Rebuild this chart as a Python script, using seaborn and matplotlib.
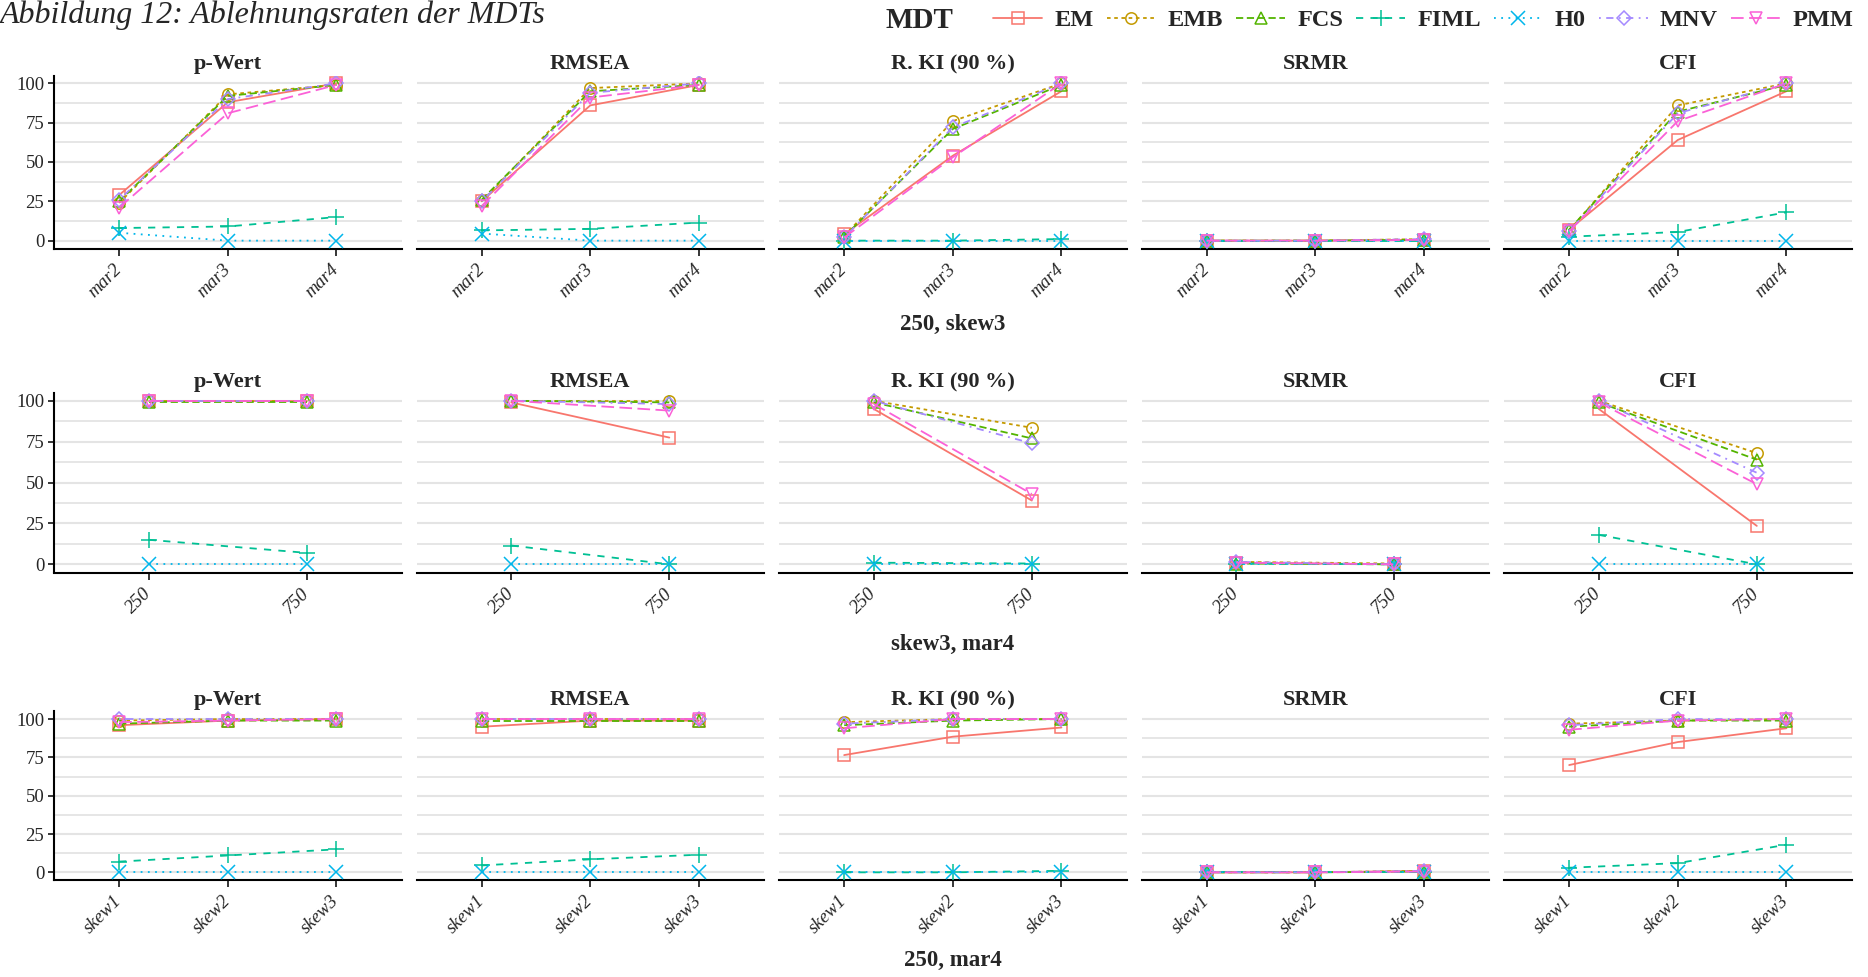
import matplotlib
matplotlib.use("Agg")
import matplotlib.pyplot as plt
from matplotlib.lines import Line2D
import pandas as pd
import seaborn as sns

sns.set_theme(style="white")
plt.rcParams["font.family"] = ["Liberation Serif", "DejaVu Serif"]

# ---------------------------------------------------------------- data
MDT = ["EM", "EMB", "FCS", "FIML", "H0", "MNV", "PMM"]
FIT = ["p-Wert", "RMSEA", "R. KI (90 %)", "SRMR", "CFI"]

MAR_LEVELS = ["mar2", "mar3", "mar4"]
N_LEVELS = ["250", "750"]
SKEW_LEVELS = ["skew1", "skew2", "skew3"]

CAPTIONS = ["250, skew3", "skew3, mar4", "250, mar4"]

# rejection rates (%), rows in MDT order
MAR_PWERT = [[29, 88, 100], [24, 93, 99], [25, 92, 99], [8, 9, 15],
             [5, 0, 0], [26, 90, 100], [21, 81, 99]]
MAR_RMSEA = [[25, 86, 99], [25, 97, 100], [26, 95, 99], [6.5, 7.5, 11.5],
             [4.5, 0, 0], [25, 94, 100], [22, 91, 99]]
MAR_RKI = [[4, 54, 95], [3, 76, 100], [2.5, 71, 99], [0, 0, 1],
           [0, 0, 0], [2, 72, 100], [2, 53, 100]]
MAR_SRMR = [[0, 0, 0.5], [0, 0, 1], [0, 0, 0.5], [0, 0, 0],
            [0, 0, 0], [0, 0, 1], [0, 0, 0.5]]
MAR_CFI = [[7, 64, 95], [6.5, 86, 100], [7, 82, 99], [2.5, 5.5, 18],
           [0, 0, 0], [6, 81, 100], [6, 76, 100]]

N_PWERT = [[100, 100], [100, 100], [99, 99], [15, 7],
           [0, 0], [100, 100], [100, 100]]
N_RMSEA = [[99, 77.5], [100, 100], [100, 99], [11.5, 0],
           [0, 0], [100, 98], [100, 94]]
N_RKI = [[95, 39], [100, 83.5], [99, 77], [1, 0.5],
         [0, 0], [100, 74], [98, 43]]
N_SRMR = [[1, 0], [1.5, 0.5], [0.5, 0], [0.5, 0],
          [0, 0], [1.5, 0], [1, 0]]
N_CFI = [[95, 23.5], [100, 68], [99, 64], [18, 0],
         [0, 0], [100, 56], [99, 49]]

SKEW_PWERT = [[96, 99, 100], [99, 100, 100], [97, 99, 99], [7, 11, 15],
              [0, 0, 0], [100, 100, 100], [98, 99, 100]]
SKEW_RMSEA = [[95, 99, 99], [100, 100, 100], [99, 99, 99], [4.5, 8.5, 11.5],
              [0, 0, 0], [100, 100, 100], [100, 100, 100]]
SKEW_RKI = [[76.5, 88.5, 94.5], [98, 100, 100], [96, 99, 100], [0, 0, 1],
            [0, 0, 0], [97, 100, 100], [94, 100, 100]]
SKEW_SRMR = [[0, 0, 1], [0, 0, 1], [0, 0, 0.5], [0, 0, 0],
             [0, 0, 0], [0, 0, 1], [0, 0, 0.5]]
SKEW_CFI = [[70, 85, 94], [97, 99, 100], [95, 99, 99], [3, 6, 18],
            [0, 0, 0], [96, 100, 100], [93, 99, 100]]

ROWS = [
    (MAR_LEVELS, [MAR_PWERT, MAR_RMSEA, MAR_RKI, MAR_SRMR, MAR_CFI]),
    (N_LEVELS, [N_PWERT, N_RMSEA, N_RKI, N_SRMR, N_CFI]),
    (SKEW_LEVELS, [SKEW_PWERT, SKEW_RMSEA, SKEW_RKI, SKEW_SRMR, SKEW_CFI]),
]

# ---------------------------------------------------------------- styles
COLORS = ["#F8766D", "#C49A00", "#53B400", "#00C094", "#00B6EB", "#A58AFF", "#FB61D7"]
MARKERS = ["s", "o", "^", "+", "x", "D", "v"]
MSIZES = [8.2, 8.2, 9.2, 11, 9.5, 7.2, 9.2]
LSTYLES = ["-", (0, (2, 2)), (0, (4, 2)), (0, (4, 4)), (0, (1, 3)),
           (0, (1, 3, 4, 3)), (0, (7, 3))]
LW = 1.3

W, H = 1868, 977
fig = plt.figure(figsize=(W / 100, H / 100), dpi=100)

PANEL_LEFT = [54, 416.5, 779, 1141.5, 1504]
PANEL_W = 347.6
ROW_TOP = [75.5, 392.6, 711.4]
ROW_BOT = [248.5, 572.5, 880]
STRIP_Y = [64, 382, 700]
CAPTION_Y = [324, 644, 960]


def long_frame(levels, table):
    recs = []
    for name, vals in zip(MDT, table):
        for lev, v in zip(levels, vals):
            recs.append((name, lev, v))
    return pd.DataFrame(recs, columns=["MDT", "Stufe", "Rate"])


for r, (levels, tables) in enumerate(ROWS):
    n = len(levels)
    for c, (fit, table) in enumerate(zip(FIT, tables)):
        ax = fig.add_axes([PANEL_LEFT[c] / W, 1 - ROW_BOT[r] / H,
                           PANEL_W / W, (ROW_BOT[r] - ROW_TOP[r]) / H])
        df = long_frame(levels, table)
        for i, name in enumerate(MDT):
            sub = df[df["MDT"] == name]
            sns.lineplot(data=sub, x="Stufe", y="Rate", ax=ax, sort=False,
                         color=COLORS[i], linewidth=LW, linestyle=LSTYLES[i],
                         marker=MARKERS[i], markersize=MSIZES[i],
                         markerfacecolor="none", markeredgecolor=COLORS[i],
                         markeredgewidth=1.1, zorder=3 + i)
        ax.set_xlim(-0.6, n - 0.4)
        ax.set_ylim(-5, 105)
        ax.set_yticks([0, 25, 50, 75, 100])
        ax.set_yticks([12.5, 37.5, 62.5, 87.5], minor=True)
        ax.grid(axis="y", which="major", color="#E4E4E4", linewidth=1.5)
        ax.grid(axis="y", which="minor", color="#E4E4E4", linewidth=1.3)
        ax.grid(axis="x", visible=False)
        ax.set_axisbelow(True)
        ax.set_xlabel("")
        ax.set_ylabel("")
        for s in ["top", "right"]:
            ax.spines[s].set_visible(False)
        ax.spines["bottom"].set_color("black")
        ax.spines["bottom"].set_linewidth(1.5)
        ax.set_xticks(range(n))
        ax.set_xticklabels(levels, rotation=45, ha="right", va="center",
                           rotation_mode="anchor", fontstyle="italic",
                           fontsize=13.5)
        ax.tick_params(axis="x", length=5, width=1.1, color="black",
                       pad=8, bottom=True)
        ax.tick_params(axis="y", which="minor", length=0)
        if c == 0:
            ax.spines["left"].set_color("black")
            ax.spines["left"].set_linewidth(1.5)
            ax.tick_params(axis="y", which="major", length=4, width=1.1,
                           color="black", labelsize=13.5, pad=3, left=True)
        else:
            ax.spines["left"].set_visible(False)
            ax.tick_params(axis="y", which="major", length=0, labelleft=False)
        fig.text((PANEL_LEFT[c] + PANEL_W / 2) / W, 1 - STRIP_Y[r] / H, fit,
                 ha="center", va="center", fontsize=16, fontweight="bold")
    fig.text((PANEL_LEFT[0] + PANEL_LEFT[-1] + PANEL_W) / 2 / W,
             1 - CAPTION_Y[r] / H, CAPTIONS[r], ha="center", va="center",
             fontsize=16.5, fontweight="bold")

# title
fig.text(0.0, 1 - 15 / H, "Abbildung 12: Ablehnungsraten der MDTs",
         ha="left", va="center", fontsize=23, fontstyle="italic")

# legend
handles = [Line2D([0], [0], color=COLORS[i], linewidth=LW, linestyle=LSTYLES[i],
                  marker=MARKERS[i], markersize=MSIZES[i],
                  markerfacecolor="none", markeredgecolor=COLORS[i],
                  markeredgewidth=1.1) for i in range(len(MDT))]
fig.text(886 / W, 1 - 20 / H, "MDT", ha="left", va="center",
         fontsize=21, fontweight="bold")
fig.legend(handles, MDT, loc="center right", bbox_to_anchor=(1853 / W, 1 - 20 / H),
           ncol=len(MDT), frameon=False, handlelength=2.0, handletextpad=0.5,
           columnspacing=0.55, borderaxespad=0, borderpad=0,
           prop={"weight": "bold", "size": 17.5, "family": "Liberation Serif"})

fig.savefig("out.png", dpi=100)
